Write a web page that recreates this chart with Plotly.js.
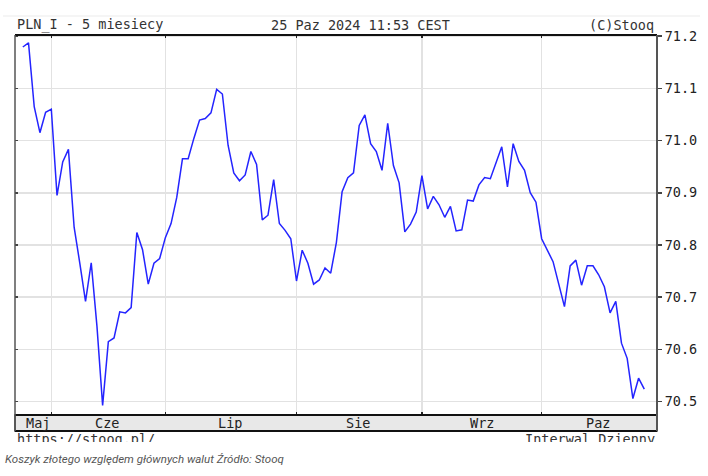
<!DOCTYPE html>
<html><head><meta charset="utf-8">
<script src="https://cdn.plot.ly/plotly-3.0.1.min.js"></script>
<style>
html,body{margin:0;padding:0;background:#fff;}
#wrap{position:relative;width:708px;height:476px;overflow:hidden;}
#chart{width:708px;height:476px;}
#crop{position:absolute;left:0;top:442px;width:708px;height:9px;background:#fff;}
</style>
</head><body>
<div id="wrap"><div id="chart"></div><div id="crop"></div></div>
<script>
// PLN_I daily values, 27 May 2024 - 25 Oct 2024 (trading days)
const values = [
  71.179, 71.187, 71.065, 71.015, 71.054, 71.060, 70.895, 70.959, 70.983, 70.834,
  70.765, 70.692, 70.766, 70.645, 70.493, 70.615, 70.622, 70.672, 70.670, 70.680,
  70.824, 70.791, 70.725, 70.765, 70.774, 70.814, 70.841, 70.891, 70.965, 70.965,
  71.004, 71.039, 71.042, 71.053, 71.098, 71.089, 70.991, 70.938, 70.923, 70.934,
  70.979, 70.954, 70.848, 70.857, 70.925, 70.841, 70.828, 70.812, 70.731, 70.790,
  70.765, 70.725, 70.733, 70.756, 70.746, 70.805, 70.902, 70.929, 70.938, 71.029,
  71.049, 70.994, 70.979, 70.943, 71.033, 70.952, 70.919, 70.825, 70.840, 70.863,
  70.933, 70.869, 70.893, 70.877, 70.853, 70.874, 70.827, 70.829, 70.886, 70.884,
  70.915, 70.929, 70.927, 70.957, 70.988, 70.911, 70.994, 70.960, 70.943, 70.900,
  70.882, 70.812, 70.790, 70.768, 70.725, 70.682, 70.760, 70.771, 70.723, 70.760,
  70.760, 70.743, 70.720, 70.670, 70.692, 70.612, 70.583, 70.506, 70.545, 70.524
];
// index of first trading day of each month (Jun, Jul, Aug, Sep, Oct)
const monthStarts = [5, 25, 48, 70, 91];
const monthLabels = ['Maj', 'Cze', 'Lip', 'Sie', 'Wrz', 'Paz'];
const monthLabelPos = [2.6, 14.7, 36.3, 58.8, 80.6, 100.8];
const yTicks = [70.5, 70.6, 70.7, 70.8, 70.9, 71.0, 71.1, 71.2];
const yTickText = ['70.5', '70.6', '70.7', '70.8', '70.9', '71.0', '71.1', '71.2'];

const titleLeft = 'PLN_I - 5 miesiecy';
const titleMid = '25 Paz 2024 11:53 CEST';
const titleRight = '(C)Stooq';
const footLeft = 'https://stooq.pl/';
const footRight = 'Interwal Dzienny';
const caption = 'Koszyk złotego względem głównych walut Źródło: Stooq';

const L = 15, R = 657, T = 35, B = 415;
const px2x = p => (p - L) / (R - L);
const py2y = p => (B - p) / (B - T);

const xRange = [-1.37, 111.23];
const yRange = [70.4745, 71.202];
const mono = 'DejaVu Sans Mono, monospace';

const traces = [
  {y: values, type: 'scatter', mode: 'lines',
   line: {color: '#2424ff', width: 1.5}, hoverinfo: 'y', showlegend: false},
  {x: [null], y: [null], xaxis: 'x2', yaxis: 'y', type: 'scatter', mode: 'lines', showlegend: false, hoverinfo: 'skip'},
  {x: [null], y: [null], xaxis: 'x', yaxis: 'y2', type: 'scatter', mode: 'lines', showlegend: false, hoverinfo: 'skip'}
];

const annotations = [
  {text: titleLeft, xref: 'paper', yref: 'paper', x: px2x(15), y: py2y(25), xanchor: 'left', yanchor: 'middle', showarrow: false, font: {family: mono, size: 13.5, color: '#333'}},
  {text: titleMid, xref: 'paper', yref: 'paper', x: px2x(360.5), y: py2y(25), xanchor: 'center', yanchor: 'middle', showarrow: false, font: {family: mono, size: 13.5, color: '#333'}},
  {text: titleRight, xref: 'paper', yref: 'paper', x: px2x(656), y: py2y(25), xanchor: 'right', yanchor: 'middle', showarrow: false, font: {family: mono, size: 13.5, color: '#333'}},
  {text: footLeft, xref: 'paper', yref: 'paper', x: px2x(15), y: py2y(439.5), xanchor: 'left', yanchor: 'middle', showarrow: false, font: {family: mono, size: 13.5, color: '#333'}},
  {text: footRight, xref: 'paper', yref: 'paper', x: px2x(657), y: py2y(439.5), xanchor: 'right', yanchor: 'middle', showarrow: false, font: {family: mono, size: 13.5, color: '#333'}},
  {text: caption, xref: 'paper', yref: 'paper', x: px2x(3), y: py2y(459), xanchor: 'left', yanchor: 'middle', showarrow: false, font: {family: 'Roboto, sans-serif', size: 11.5, color: '#555', style: 'italic'}}
];
monthLabels.forEach((m, i) => annotations.push({
  text: m, xref: 'x', yref: 'paper', x: monthLabelPos[i], y: py2y(423), xanchor: 'center', yanchor: 'middle',
  showarrow: false, font: {family: mono, size: 13.5, color: '#222'}
}));

const shapes = [
  {type: 'line', xref: 'paper', yref: 'paper', x0: px2x(3), x1: px2x(700), y0: py2y(16), y1: py2y(16), line: {color: '#ebebeb', width: 1}},
  {type: 'rect', xref: 'paper', yref: 'paper', x0: 0, x1: 1, y0: py2y(431), y1: 0, fillcolor: '#e8e8e8', line: {color: '#333', width: 1.5}, layer: 'below'},
  {type: 'line', xref: 'paper', yref: 'paper', x0: 0, x1: 1, y0: 1, y1: 1, line: {color: '#111', width: 2}},
  {type: 'line', xref: 'paper', yref: 'paper', x0: 0, x1: 1, y0: 0, y1: 0, line: {color: '#111', width: 2}},
  {type: 'line', xref: 'paper', yref: 'paper', x0: 0, x1: 1, y0: py2y(431), y1: py2y(431), line: {color: '#111', width: 2}},
  {type: 'line', xref: 'paper', yref: 'paper', x0: 0, x1: 0, y0: py2y(431), y1: 1, line: {color: '#555', width: 1.5}},
  {type: 'line', xref: 'paper', yref: 'paper', x0: 1, x1: 1, y0: py2y(431), y1: 1, line: {color: '#555', width: 2}}
];

const layout = {
  width: 708, height: 476,
  margin: {l: L, r: 708 - R, t: T, b: 476 - B, pad: 0},
  paper_bgcolor: '#fff', plot_bgcolor: '#fff',
  showlegend: false,
  xaxis: {range: xRange, tickvals: monthStarts, ticks: 'inside', ticklen: 3, tickwidth: 1.5, tickcolor: '#222',
          showticklabels: false, showgrid: true, gridcolor: '#e2e2e2', gridwidth: 1.5, zeroline: false, showline: false, fixedrange: true},
  xaxis2: {range: xRange, overlaying: 'x', side: 'top', anchor: 'y', tickvals: monthStarts, ticks: 'inside', ticklen: 3, tickwidth: 1.5, tickcolor: '#222',
          showticklabels: false, showgrid: false, zeroline: false, showline: false, fixedrange: true},
  yaxis: {range: yRange, side: 'right', tickvals: yTicks, ticktext: yTickText, ticks: 'outside', ticklen: 4, tickwidth: 1.5, tickcolor: '#444',
          tickfont: {family: mono, size: 13.5, color: '#222'}, showgrid: true, gridcolor: '#e2e2e2', gridwidth: 1.5, zeroline: false, showline: false, fixedrange: true},
  yaxis2: {range: yRange, overlaying: 'y', side: 'left', anchor: 'x', tickvals: yTicks, ticks: 'inside', ticklen: 3, tickwidth: 1.5, tickcolor: '#444',
          showticklabels: false, showgrid: false, zeroline: false, showline: false, fixedrange: true},
  annotations: annotations,
  shapes: shapes
};

Plotly.newPlot('chart', traces, layout, {displayModeBar: false, staticPlot: true});
</script>
</body></html>
